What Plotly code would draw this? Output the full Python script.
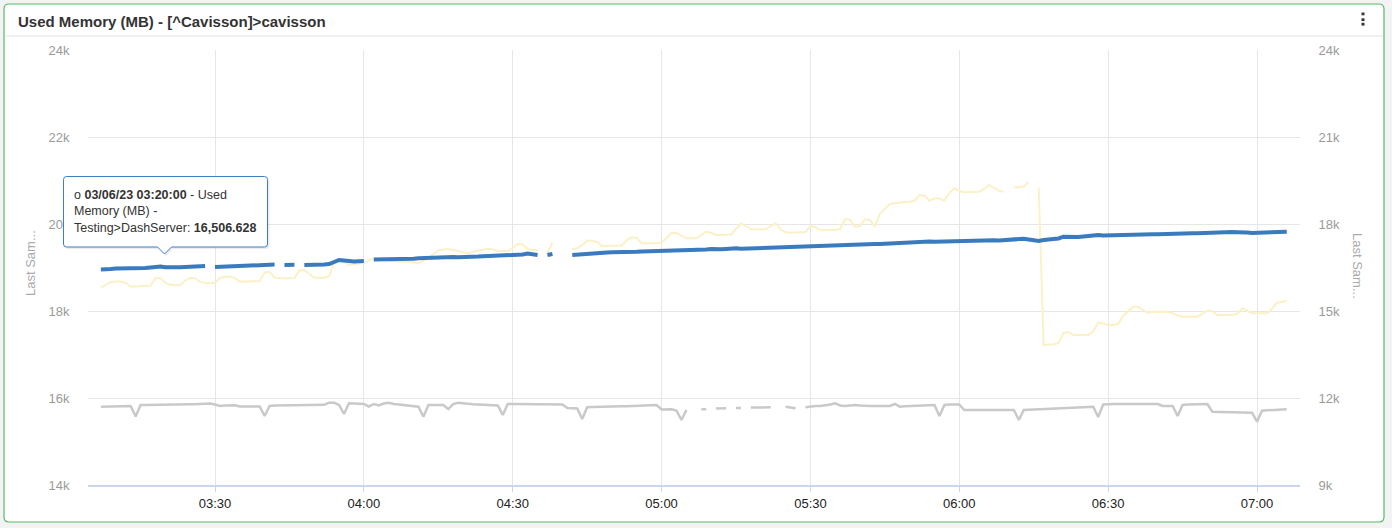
import pandas as pd
import plotly.graph_objects as go

# ---------------- data ----------------
start = "2023-03-06 03:07:00"
times = pd.date_range(start, periods=240, freq="1min")

# Used Memory (MB) - Testing>DashServer  (right axis)
blue = [16431, 16431, 16448, 16466, 16466, 16459, 16466, 16466, 16473, 16483,
        16500, 16524, 16534, 16506.628, 16500, 16500, 16507, 16517, 16524, 16534,
        16545, 16552, None, 16517, 16524, 16534, 16541, 16545, 16552, 16559,
        16559, 16569, 16579, 16593, 16603, 16600, None, 16586, 16586, 16593,
        None, 16586, 16586, 16603, 16610, 16603, 16621, 16690, 16759, 16741,
        16707, 16707, 16717, 16724, None, 16776, 16776, 16783, 16776, 16786,
        16793, 16800, 16810, 16803, 16817, 16828, 16821, 16835, 16845, 16838,
        16852, 16862, 16855, 16869, 16879, 16872, 16879, 16890, 16897, 16890,
        16897, 16907, 16914, 16921, 16931, 16948, 16983, 16948, 16931, None,
        16931, 16966, None, None, None, 16931, 16948, 16966, 16983, 17000,
        17007, 17000, 17017, 17028, 17024, 17034, 17034, 17028, 17041, 17048,
        17052, 17052, 17059, 17069, 17083, 17086, 17079, 17086, 17093, 17103,
        17103, 17110, 17121, 17138, 17121, 17128, 17138, 17155, 17162, 17145,
        17152, 17162, 17172, 17179, 17183, 17190, 17190, 17200, 17207, 17214,
        17224, 17217, 17224, 17234, 17241, 17234, 17248, 17255, 17259, 17259,
        17269, 17276, 17276, 17290, 17293, 17300, 17310, 17310, 17321, 17328,
        17334, 17345, 17362, 17379, 17362, 17379, 17390, 17397, 17390, 17397,
        17397, 17404, 17414, 17421, 17414, 17421, 17431, 17424, 17431, 17438,
        17441, 17431, 17448, 17466, 17455, 17483, 17493, 17466, 17431, 17414,
        17448, 17466, 17483, 17500, 17562, 17552, 17534, 17552, 17569, 17586,
        17603, 17621, 17603, 17610, 17621, 17614, 17638, 17621, 17628, 17638,
        17645, 17638, 17645, 17645, 17655, 17648, 17655, 17662, 17672, 17672,
        17679, 17679, 17690, 17690, 17697, 17703, 17707, 17714, 17724, 17717,
        17724, 17707, 17690, 17697, 17707, 17717, 17724, 17731, 17741, 17735]

# grey series (left axis)
grey = [15800, 15805, 15805, 15809, 15811, 15816, 15816, 15575, 15839, 15839,
        15839, 15844, 15844, 15846, 15846, 15851, 15851, 15853, 15855, 15857,
        15857, 15862, 15874, 15851, 15816, 15828, 15839, 15834, 15805, 15805,
        15805, 15809, 15805, 15586, 15816, 15828, 15828, 15830, 15832, 15832,
        15834, 15837, 15839, 15839, 15839, 15844, 15892, 15892, 15839, 15632,
        15878, 15878, 15878, 15862, 15805, 15862, 15828, 15874, 15892, 15862,
        15851, 15839, 15828, 15816, 15800, 15570, 15839, 15839, 15839, 15839,
        15747, 15862, 15892, 15874, 15862, 15855, 15851, 15848, 15844, 15839,
        15828, 15609, 15862, 15862, 15862, 15862, 15862, 15862, 15862, 15862,
        15862, 15862, 15862, 15851, 15770, 15763, 15758, 15517, 15786, 15793,
        15793, 15798, 15798, 15805, 15805, 15809, 15811, 15816, 15816, 15821,
        15825, 15832, 15839, 15735, 15735, 15740, 15712, 15494, 15724, None,
        None, 15740, 15740, None, 15758, 15763, 15763, None, 15770, 15770,
        None, 15781, 15786, 15786, 15786, 15786, None, None, 15800, 15781,
        15763, None, 15786, 15809, 15816, 15816, 15828, 15851, 15878, 15828,
        15816, 15828, 15839, 15828, 15816, 15816, 15816, 15816, 15816, 15816,
        15862, 15800, 15809, 15816, 15821, 15825, 15830, 15834, 15839, 15586,
        15839, 15848, 15857, 15851, 15724, 15724, 15724, 15724, 15724, 15724,
        15724, 15724, 15724, 15724, 15724, 15494, 15724, 15731, 15735, 15742,
        15747, 15752, 15756, 15761, 15765, 15770, 15775, 15779, 15786, 15793,
        15800, 15563, 15851, 15862, 15862, 15862, 15862, 15862, 15862, 15862,
        15862, 15862, 15862, 15862, 15816, 15816, 15816, 15586, 15839, 15851,
        15855, 15857, 15862, 15862, 15684, 15682, 15680, 15678, 15675, 15673,
        15671, 15666, 15662, 15455, 15707, 15717, 15724, 15728, 15735, 15740]

# pale yellow series (left axis)
yellow = [18536, 18598, 18667, 18678, 18678, 18644, 18563, 18563, 18568, 18570,
          18586, 18759, 18759, 18644, 18598, 18598, 18598, 18701, 18765, 18752,
          18667, 18644, 18644, 18644, 18759, 18788, 18788, 18759, 18673, 18673,
          18673, 18673, 18690, 18885, 18903, 18770, 18752, 18752, 18752, 18759,
          18931, 18942, 18850, 18765, 18765, 18765, 18804, 19103, 19165, 19126,
          19057, 19069, 19085, 19103, 19161, 19211, 19188, 19172, 19154, 19138,
          19133, 19133, 19133, 19115, 19096, 19161, 19218, 19310, 19391, 19414,
          19425, 19402, 19368, 19349, 19333, 19356, 19391, 19414, 19437, 19414,
          19379, 19379, 19379, 19448, 19540, 19529, 19425, 19402, 19402, None,
          19333, 19570, None, None, None, 19425, 19441, 19517, 19616, 19616,
          19586, 19494, 19494, 19494, 19494, 19506, 19632, 19694, 19678, 19556,
          19556, 19556, 19556, 19575, 19678, 19793, 19800, 19736, 19671, 19671,
          19671, 19747, 19823, 19793, 19747, 19747, 19747, 19759, 19885, 20011,
          19954, 19878, 19878, 19878, 19878, 19954, 20016, 19873, 19811, 19800,
          19800, 19800, 19816, 19954, 19931, 19862, 19862, 19862, 19862, 19885,
          20115, 20092, 19931, 19954, 20108, 20092, 19938, 20241, 20345, 20460,
          20476, 20494, 20506, 20510, 20540, 20667, 20655, 20536, 20586, 20586,
          20540, 20713, 20821, 20759, 20729, 20736, 20740, 20742, 20805, 20892,
          20828, 20765, 20742, None, 20844, 20844, 20862, 20965, None, 20844,
          17218, 17230, 17230, 17264, 17494, 17517, 17448, 17448, 17448, 17448,
          17540, 17735, 17712, 17678, 17678, 17701, 17885, 18000, 18099, 18099,
          18023, 17954, 17984, 17984, 17984, 17977, 17947, 17896, 17869, 17869,
          17869, 17869, 17931, 18007, 18000, 17908, 17908, 17908, 17908, 17931,
          18062, 18011, 17947, 17947, 17947, 17947, 18046, 18184, 18214, 18230]

left_ticks = [14000, 16000, 18000, 20000, 22000, 24000]
left_labels = ["14k", "16k", "18k", "20k", "22k", "24k"]
right_ticks = [9000, 12000, 15000, 18000, 21000, 24000]
right_labels = ["9k", "12k", "15k", "18k", "21k", "24k"]

title_text = "Used Memory (MB) - [^Cavisson]&gt;cavisson"
axis_title = "Last Sam..."
tip_index = 13

# ---------------- geometry helpers (pixel -> paper) ----------------
W, H = 1392, 528
L, R, T, B = 88, 1300, 50, 485


def px(x):
    return (x - L) / (R - L)


def py(y):
    return (B - y) / (B - T)


def rounded_path(x0, y0, x1, y1, r, pointer=None):
    p = []
    p.append(f"M{px(x0 + r)},{py(y0)}")
    p.append(f"L{px(x1 - r)},{py(y0)}")
    p.append(f"Q{px(x1)},{py(y0)} {px(x1)},{py(y0 + r)}")
    p.append(f"L{px(x1)},{py(y1 - r)}")
    p.append(f"Q{px(x1)},{py(y1)} {px(x1 - r)},{py(y1)}")
    if pointer:
        cx, tip = pointer
        p.append(f"L{px(cx + 7)},{py(y1)}")
        p.append(f"L{px(cx)},{py(tip)}")
        p.append(f"L{px(cx - 7)},{py(y1)}")
    p.append(f"L{px(x0 + r)},{py(y1)}")
    p.append(f"Q{px(x0)},{py(y1)} {px(x0)},{py(y1 - r)}")
    p.append(f"L{px(x0)},{py(y0 + r)}")
    p.append(f"Q{px(x0)},{py(y0)} {px(x0 + r)},{py(y0)}")
    p.append("Z")
    return " ".join(p)


fig = go.Figure()

fig.add_trace(go.Scatter(x=times, y=yellow, mode="lines", yaxis="y",
                         line=dict(color="#fcf1c6", width=2),
                         connectgaps=False, name="series 3"))
fig.add_trace(go.Scatter(x=times, y=grey, mode="lines", yaxis="y",
                         line=dict(color="#c9c9c9", width=2.5),
                         connectgaps=False, name="series 2"))
fig.add_trace(go.Scatter(x=times, y=blue, mode="lines", yaxis="y2",
                         line=dict(color="#3a7bbf", width=4),
                         connectgaps=False,
                         name="Used Memory (MB) - Testing>DashServer"))

shapes = []
# panel
shapes.append(dict(type="path", xref="paper", yref="paper", layer="below",
                   path=rounded_path(4, 4, 1384, 522, 5),
                   fillcolor="white", line=dict(color="#55bb66", width=1.2)))
# header separator
shapes.append(dict(type="line", xref="paper", yref="paper", layer="below",
                   x0=px(5), x1=px(1383), y0=py(36), y1=py(36),
                   line=dict(color="#e2e2e2", width=1)))
# kebab menu dots
for yy in (12.5, 18.3, 22.8):
    shapes.append(dict(type="rect", xref="paper", yref="paper",
                       x0=px(1361.5), x1=px(1364.5), y0=py(yy), y1=py(yy + 2.8),
                       fillcolor="#333344", line=dict(width=0)))
# tooltip shadow + box
shapes.append(dict(type="path", xref="paper", yref="paper", layer="above",
                   path=rounded_path(65, 178.5, 269.5, 249, 3, pointer=(166, 256)),
                   fillcolor="rgba(0,0,0,0.08)", line=dict(width=0)))
shapes.append(dict(type="path", xref="paper", yref="paper", layer="above",
                   path=rounded_path(63.5, 176.5, 267.5, 247, 3, pointer=(164.5, 254)),
                   fillcolor="white", line=dict(color="#3d7fc1", width=1)))

tip_time = times[tip_index].strftime("%m/%d/%y %H:%M:%S")
tip_val = f"{blue[tip_index]:,.3f}"
tip_text = (f"o <b>{tip_time}</b> - Used<br>Memory (MB) -<br>"
            f"Testing&gt;DashServer: <b>{tip_val}</b>")

annotations = [
    dict(text=f"<b>{title_text}</b>", xref="paper", yref="paper",
         x=px(16), y=py(21.5), xanchor="left", yanchor="middle", showarrow=False,
         font=dict(family="Liberation Sans, Arial, sans-serif", size=15, color="#333333")),
    dict(text=axis_title, xref="paper", yref="paper", x=px(30), y=py(263),
         xanchor="center", yanchor="middle", textangle=-90, showarrow=False,
         font=dict(family="Liberation Sans, Arial, sans-serif", size=13, color="#aaaaaa")),
    dict(text=axis_title, xref="paper", yref="paper", x=px(1358), y=py(266),
         xanchor="center", yanchor="middle", textangle=90, showarrow=False,
         font=dict(family="Liberation Sans, Arial, sans-serif", size=13, color="#aaaaaa")),
    dict(text=tip_text, xref="paper", yref="paper", x=px(72), y=py(211),
         xanchor="left", yanchor="middle", align="left", showarrow=False,
         font=dict(family="Liberation Sans, Arial, sans-serif", size=12.5, color="#333333")),
]

fig.update_layout(
    width=W, height=H,
    margin=dict(l=L, r=W - R, t=T, b=H - B, pad=0),
    paper_bgcolor="#f3f3f3",
    plot_bgcolor="rgba(0,0,0,0)",
    showlegend=False,
    hovermode=False,
    shapes=shapes,
    annotations=annotations,
    font=dict(family="Liberation Sans, Arial, sans-serif"),
    xaxis=dict(
        type="date",
        range=["2023-03-06 03:04:24", "2023-03-06 07:08:40"],
        tickformat="%H:%M", dtick=30 * 60 * 1000, tick0="2023-03-06 03:00:00",
        showgrid=True, gridcolor="#e6e6e6", gridwidth=1,
        showline=True, linecolor="#ccd6eb", linewidth=2,
        ticks="outside", ticklen=5, tickcolor="#ccd6eb",
        tickfont=dict(size=13, color="#222222"),
        zeroline=False,
    ),
    yaxis=dict(
        range=[14000, 24000], tickvals=left_ticks, ticktext=left_labels,
        showgrid=True, gridcolor="#e6e6e6", gridwidth=1, zeroline=False,
        ticks="outside", ticklen=15, tickcolor="rgba(0,0,0,0)",
        tickfont=dict(size=13, color="#9a9a9a"),
    ),
    yaxis2=dict(
        range=[9000, 24000], tickvals=right_ticks, ticktext=right_labels,
        overlaying="y", side="right", showgrid=False, zeroline=False,
        ticks="outside", ticklen=15, tickcolor="rgba(0,0,0,0)",
        tickfont=dict(size=13, color="#9a9a9a"),
    ),
)

fig.write_html("out.html", config={"displayModeBar": False},
               post_script="document.body.style.margin='0';document.body.style.overflow='hidden';")
